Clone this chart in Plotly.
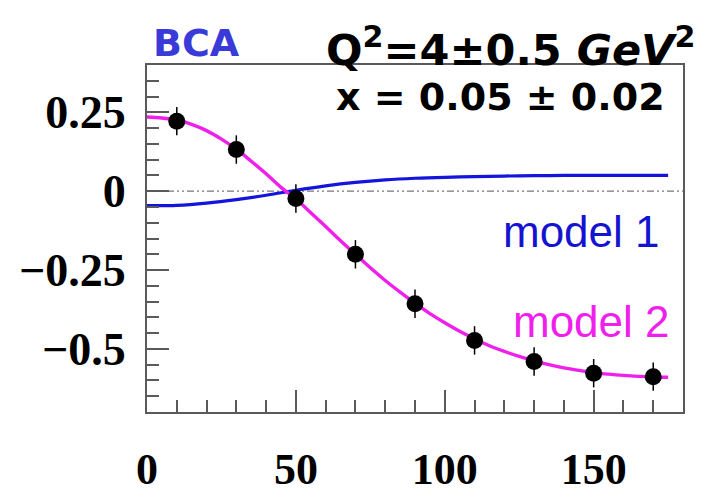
import plotly.graph_objects as go

# Data points
data_x = [10, 30, 50, 70, 90, 110, 130, 150, 170]
data_y = [0.222, 0.132, -0.023, -0.200, -0.357, -0.473, -0.540, -0.577, -0.588]
data_err = [0.045, 0.045, 0.045, 0.045, 0.045, 0.045, 0.045, 0.045, 0.045]

# Model 2 (magenta) curve
m2_x = [0, 5, 10, 15, 20, 25, 30, 35, 40, 45, 50, 55, 60, 65, 70, 75, 80, 85,
        90, 95, 100, 105, 110, 115, 120, 125, 130, 135, 140, 145, 150, 155,
        160, 165, 170, 175]
m2_y = [0.235, 0.232, 0.225, 0.212, 0.192, 0.165, 0.133, 0.095, 0.055, 0.012,
        -0.025, -0.068, -0.112, -0.157, -0.200, -0.243, -0.283, -0.320,
        -0.355, -0.388, -0.417, -0.444, -0.468, -0.490, -0.508, -0.524,
        -0.538, -0.550, -0.560, -0.568, -0.575, -0.580, -0.584, -0.587,
        -0.589, -0.590]

# Model 1 (blue) curve
m1_x = [0, 10, 20, 30, 40, 50, 60, 70, 80, 90, 100, 110, 120, 130, 140, 150,
        160, 170, 175]
m1_y = [-0.046, -0.045, -0.038, -0.027, -0.013, 0.003, 0.017, 0.028, 0.036,
        0.041, 0.044, 0.046, 0.048, 0.049, 0.050, 0.050, 0.050, 0.050, 0.050]

zero_x = [0, 180]
zero_y = [0, 0]

x_ticks = [0, 50, 100, 150]
x_ticktext = ["0", "50", "100", "150"]
y_ticks = [-0.5, -0.25, 0, 0.25]
y_ticktext = ["\u22120.5", "\u22120.25", "0", "0.25"]

fig = go.Figure()
fig.add_trace(go.Scatter(x=zero_x, y=zero_y, mode="lines",
                         line=dict(color="#777777", width=1.2, dash="7px,3px,2px,3px,2px,3px"),
                         hoverinfo="skip", showlegend=False))
fig.add_trace(go.Scatter(x=m1_x, y=m1_y, mode="lines", line=dict(color="#1414dc", width=3.2, shape="spline"),
                         showlegend=False))
fig.add_trace(go.Scatter(x=m2_x, y=m2_y, mode="lines", line=dict(color="#f020ec", width=3.4, shape="spline"),
                         showlegend=False))
fig.add_trace(go.Scatter(x=data_x, y=data_y, mode="markers",
                         marker=dict(color="black", size=17),
                         error_y=dict(type="data", array=data_err, color="black", thickness=1.5, width=0),
                         showlegend=False))

axis_common = dict(showgrid=False, zeroline=False, showline=True, linecolor="#5a5a5a",
                   linewidth=2, mirror=True, ticks="inside", tickcolor="#5a5a5a", tickwidth=1.5,
                   automargin=False)

fig.update_xaxes(range=[0, 180], tickmode="array", tickvals=x_ticks, ticktext=x_ticktext,
                 ticklen=22, ticklabelstandoff=17,
                 tickfont=dict(family="Liberation Serif", size=44, color="black", weight="bold"),
                 minor=dict(dtick=10, tick0=0, ticklen=12, ticks="inside", tickcolor="#5a5a5a", tickwidth=1.5),
                 **axis_common)
fig.update_yaxes(range=[-0.70, 0.40], tickmode="array", tickvals=y_ticks, ticktext=y_ticktext,
                 ticklen=22, ticklabelstandoff=10,
                 tickfont=dict(family="Liberation Serif", size=46, color="black", weight="bold"),
                 minor=dict(dtick=0.05, tick0=0, ticklen=12, ticks="inside", tickcolor="#5a5a5a", tickwidth=1.5),
                 **axis_common)

annots = [
    dict(text="<b>BCA</b>", x=0.093, y=1.063, xanchor="center", yanchor="middle",
         font=dict(family="DejaVu Sans", size=38, color="#3a3ad8")),
    dict(text="<b>Q<sup>2</sup>=4\u00b10.5 <i>GeV</i><sup>2</sup></b>", x=1.026, y=1.052,
         xanchor="right", yanchor="middle",
         font=dict(family="DejaVu Sans", size=43, color="black")),
    dict(text="<b>x = 0.05 \u00b1 0.02</b>", x=0.970, y=0.908, xanchor="right", yanchor="middle",
         font=dict(family="DejaVu Sans", size=38, color="black")),
    dict(text="model 1", x=0.961, y=0.519, xanchor="right", yanchor="middle",
         font=dict(family="Liberation Sans", size=44, color="#1414d0")),
    dict(text="model 2", x=0.979, y=0.262, xanchor="right", yanchor="middle",
         font=dict(family="Liberation Sans", size=44, color="#f020ec")),
]
for a in annots:
    fig.add_annotation(xref="paper", yref="paper", showarrow=False, **a)

# page body has an 8px default margin, so offset the margins accordingly
fig.update_layout(width=719, height=494, margin=dict(l=139, r=44, t=57, b=90),
                  plot_bgcolor="white", paper_bgcolor="white")

fig.write_html("out.html")
